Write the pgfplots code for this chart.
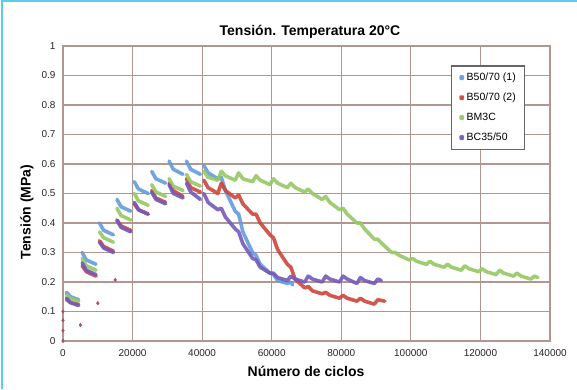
\documentclass[border=0pt]{standalone}
\usepackage{pgfplots}
\pgfplotsset{compat=1.18}
\usepackage{pgfplotstable}
\usepackage{fontspec}
\setmainfont{Liberation Sans}

\definecolor{gridc}{RGB}{178,150,145}
\definecolor{framec}{RGB}{90,205,240}
\definecolor{sblue}{RGB}{100,155,220}
\definecolor{sred}{RGB}{205,70,60}
\definecolor{sgreen}{RGB}{150,200,100}
\definecolor{spurple}{RGB}{115,90,185}

% B50/70 (1): segments separated by nan rows (rest periods)
\pgfplotstableread{
x y
1000 0.165
2200 0.150
4500 0.140
nan nan
5500 0.300
6700 0.275
9500 0.260
nan nan
10500 0.400
11700 0.375
14500 0.360
nan nan
15500 0.480
16700 0.455
19500 0.440
nan nan
20500 0.540
21700 0.515
24500 0.500
nan nan
25500 0.575
26700 0.550
29500 0.535
nan nan
30500 0.610
31700 0.582
34500 0.565
nan nan
35500 0.610
36700 0.582
39500 0.565
nan nan
40500 0.595
41700 0.570
44500 0.550
45500 0.555
46700 0.510
49500 0.440
50500 0.430
51700 0.370
54500 0.300
55500 0.290
56700 0.260
59500 0.230
60500 0.225
61700 0.205
64500 0.195
65500 0.200
66000 0.190
}\tblA

% B50/70 (2)
\pgfplotstableread{
x y
1000 0.140
2200 0.130
4500 0.125
nan nan
5500 0.255
6700 0.235
9500 0.220
nan nan
10500 0.340
11700 0.320
14500 0.305
nan nan
15500 0.410
16700 0.390
19500 0.375
nan nan
20500 0.465
21700 0.445
24500 0.430
nan nan
25500 0.510
26700 0.485
29500 0.470
nan nan
30500 0.535
31700 0.510
34500 0.490
nan nan
35500 0.550
36700 0.520
39500 0.505
nan nan
40500 0.545
41700 0.520
44500 0.500
45500 0.535
46700 0.510
49500 0.485
50500 0.495
51700 0.465
54500 0.430
55500 0.430
56700 0.400
59500 0.360
60500 0.350
61700 0.310
64500 0.260
65500 0.250
66700 0.210
69500 0.180
70500 0.185
71700 0.170
74500 0.160
75500 0.165
76700 0.155
79500 0.145
80500 0.155
81700 0.145
84500 0.135
85500 0.145
86700 0.135
89500 0.125
90500 0.140
92500 0.135
}\tblB

% BM3C
\pgfplotstableread{
x y
1000 0.155
2200 0.145
4500 0.135
nan nan
5500 0.280
6700 0.255
9500 0.240
nan nan
10500 0.370
11700 0.350
14500 0.335
nan nan
15500 0.450
16700 0.425
19500 0.410
nan nan
20500 0.500
21700 0.475
24500 0.460
nan nan
25500 0.530
26700 0.505
29500 0.490
nan nan
30500 0.550
31700 0.525
34500 0.510
nan nan
35500 0.565
36700 0.540
39500 0.525
nan nan
40500 0.575
41700 0.555
44500 0.545
45500 0.575
46700 0.560
49500 0.545
50500 0.570
51700 0.550
54500 0.540
55500 0.560
56700 0.545
59500 0.530
60500 0.550
61700 0.535
64500 0.520
65500 0.535
66700 0.520
69500 0.505
70500 0.515
71700 0.500
74500 0.480
75500 0.490
76700 0.470
79500 0.445
80500 0.450
81700 0.430
84500 0.400
85500 0.400
86700 0.380
89500 0.345
90500 0.345
91700 0.330
94500 0.300
95500 0.300
96700 0.290
99500 0.275
100500 0.280
101700 0.270
104500 0.260
105500 0.270
106700 0.260
109500 0.250
110500 0.260
111700 0.250
114500 0.240
115500 0.255
116700 0.245
119500 0.235
120500 0.245
121700 0.235
124500 0.225
125500 0.240
126700 0.230
129500 0.220
130500 0.230
131700 0.220
134500 0.210
135500 0.220
136500 0.215
}\tblC

% BC35/50
\pgfplotstableread{
x y
1000 0.145
2200 0.130
4500 0.120
nan nan
5500 0.265
6700 0.240
9500 0.225
nan nan
10500 0.335
11700 0.315
14500 0.300
nan nan
15500 0.410
16700 0.385
19500 0.370
nan nan
20500 0.470
21700 0.445
24500 0.430
nan nan
25500 0.505
26700 0.480
29500 0.465
nan nan
30500 0.530
31700 0.500
34500 0.485
nan nan
35500 0.535
36700 0.505
39500 0.480
nan nan
40500 0.500
41700 0.470
44500 0.445
45500 0.450
46700 0.420
49500 0.380
50500 0.370
51700 0.330
54500 0.280
55500 0.275
56700 0.250
59500 0.230
60500 0.230
61700 0.215
64500 0.205
65500 0.220
66700 0.210
69500 0.200
70500 0.220
71700 0.210
74500 0.200
75500 0.220
76700 0.210
79500 0.200
80500 0.220
81700 0.210
84500 0.195
85500 0.215
86700 0.205
89500 0.195
90500 0.210
91500 0.205
}\tblD

% reload points at the start of each loading block
\pgfplotstableread{
x y
0 0.000
0 0.035
0 0.070
0 0.100
5000 0.054
10000 0.128
15000 0.207
}\tblE

\begin{document}
\begin{tikzpicture}
\useasboundingbox (0pt,0pt) rectangle (577pt,389pt);
\draw[framec, line width=2pt] (1.5pt,0pt) -- (1.5pt,387.5pt) -- (577pt,387.5pt);

\begin{axis}[
  at={(63pt,48pt)}, anchor=south west,
  scale only axis, width=487pt, height=295pt,
  xmin=0, xmax=140000, ymin=0, ymax=1,
  clip=false,
  xtick={0,20000,40000,60000,80000,100000,120000,140000},
  xticklabels={0,20000,40000,60000,80000,100000,120000,140000},
  ytick={0,0.1,0.2,0.3,0.4,0.5,0.6,0.7,0.8,0.9,1},
  yticklabels={0,0.1,0.2,0.3,0.4,0.5,0.6,0.7,0.8,0.9,1},
  scaled x ticks=false,
  major tick length=0pt,
  tick label style={font=\fontsize{10}{11}\selectfont, text=black!85},
  xticklabel style={yshift=-5pt},
  yticklabel style={xshift=-4pt},
  grid=major,
  major grid style={gridc, line width=1.2pt},
  axis line style={gridc, line width=1.2pt},
  unbounded coords=jump,
  every axis plot/.append style={line width=3.6pt, line join=round, line cap=round},
  legend cell align=left,
  legend style={at={(0.797,0.934)}, anchor=north west, draw=black!60,
    line width=1.2pt, font=\fontsize{10.5}{11.5}\selectfont, row sep=7pt,
    inner xsep=7pt, inner ysep=5pt},
  legend image code/.code={\fill[#1] (0.3em,0pt) circle (1.2pt);},
]
\addplot[sblue, opacity=0.9] table {\tblA};
\addlegendentry{B50/70 (1)}
\addplot[sred, opacity=0.9] table {\tblB};
\addlegendentry{B50/70 (2)}
\addplot[sgreen, opacity=0.9] table {\tblC};
\addlegendentry{BM3C}
\addplot[spurple, opacity=0.9] table {\tblD};
\addlegendentry{BC35/50}
\addplot[sred!70!spurple, only marks, mark=diamond*, mark size=1.8pt, line width=0.4pt, forget plot] table {\tblE};
\end{axis}

\node[font=\bfseries\fontsize{14}{16}\selectfont] at (310pt,357pt) {Tensión. Temperatura 20°C};
\node[font=\bfseries\fontsize{14}{16}\selectfont] at (306pt,18pt) {Número de ciclos};
\node[font=\bfseries\fontsize{14}{16}\selectfont, rotate=90] at (27pt,177pt) {Tensión (MPa)};
\end{tikzpicture}
\end{document}
